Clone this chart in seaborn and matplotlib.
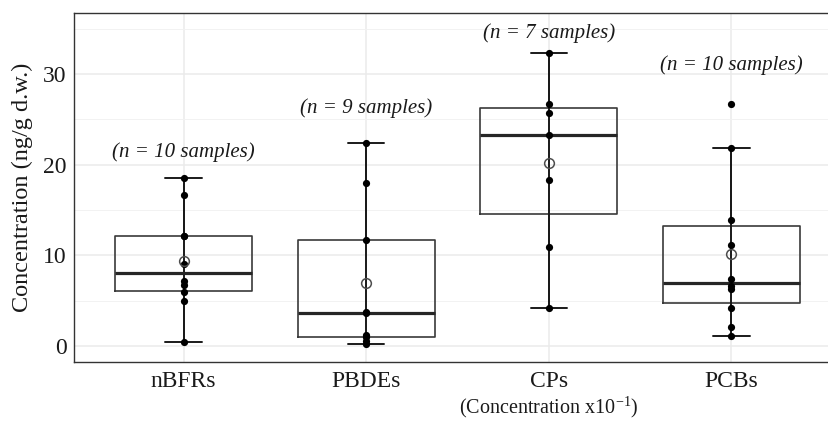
import numpy as np
import pandas as pd
import matplotlib
matplotlib.use("Agg")
import matplotlib.pyplot as plt
import seaborn as sns
from matplotlib import cbook
from matplotlib.transforms import blended_transform_factory
from matplotlib.ticker import FixedLocator, MultipleLocator

# ---------------- data ----------------
categories = ["nBFRs", "PBDEs", "CPs", "PCBs"]
nbfrs = [18.5, 16.7, 12.1, 12.1, 9.0, 7.2, 6.7, 5.9, 5.0, 0.4]
pbdes = [22.4, 18.0, 11.7, 3.7, 3.6, 1.2, 0.95, 0.5, 0.2]
cps = [32.3, 26.7, 25.7, 23.3, 18.3, 10.9, 4.2]
pcbs = [26.7, 21.8, 13.9, 11.1, 7.4, 6.6, 6.3, 4.2, 2.1, 1.1]
sample_labels = ["(n = 10 samples)", "(n = 9 samples)", "(n = 7 samples)", "(n = 10 samples)"]
label_y = [21.4, 26.2, 34.5, 31.0]
y_ticks = [0, 10, 20, 30]
y_label = "Concentration (ng/g d.w.)"
caption = "(Concentration x10$^{-1}$)"
caption_category = "CPs"

series = [nbfrs, pbdes, cps, pcbs]
df = pd.DataFrame({
    "group": np.repeat(categories, [len(s) for s in series]),
    "value": np.concatenate([np.asarray(s, float) for s in series]),
})

# ---------------- style ----------------
sns.set_theme(style="white")
plt.rcParams["font.family"] = ["Liberation Serif", "DejaVu Serif"]
plt.rcParams["mathtext.fontset"] = "custom"
plt.rcParams["mathtext.rm"] = "Liberation Serif"
plt.rcParams["mathtext.it"] = "Liberation Serif:italic"

fig = plt.figure(figsize=(8.29, 4.21), dpi=100)
ax = fig.add_axes([0.0893, 0.1409, 1.0145 - 0.0893, 0.9684 - 0.1409])

line_col = "#1a1a1a"

sns.boxplot(
    data=df, x="group", y="value", order=categories, width=0.75,
    fill=False, color="#3a3a3a", linewidth=1.2, showfliers=False, whis=1.5,
    medianprops=dict(linewidth=2.3, color="#262626"),
    whiskerprops=dict(linewidth=1.4, color=line_col),
    capprops=dict(linewidth=1.4, color=line_col),
    capwidths=0.2, ax=ax, zorder=2,
)

# continuous vertical line from lower to upper whisker (as geom_errorbar)
stats = [cbook.boxplot_stats(np.asarray(s, float), whis=1.5)[0] for s in series]
ax.vlines(np.arange(len(categories)), [st["whislo"] for st in stats],
          [st["whishi"] for st in stats], color=line_col, linewidth=1.4, zorder=2)

sns.stripplot(data=df, x="group", y="value", order=categories, jitter=False,
              color="black", size=5.2, linewidth=0, ax=ax, zorder=4)

sns.pointplot(data=df, x="group", y="value", order=categories, estimator="mean",
              errorbar=None, linestyle="none", marker="o", markersize=7,
              markerfacecolor="none", markeredgecolor="#4d4d4d",
              markeredgewidth=1.1, color="#4d4d4d", ax=ax, zorder=5)

# ---------------- axes ----------------
ax.set_xlim(-0.6, len(categories) - 0.4)
ax.set_ylim(-1.73, 36.69)
ax.yaxis.set_major_locator(FixedLocator(y_ticks))
ax.yaxis.set_minor_locator(MultipleLocator(5))
ax.set_axisbelow(True)
ax.grid(True, which="major", color="#ebebeb", linewidth=1.1)
ax.grid(True, which="minor", axis="y", color="#f2f2f2", linewidth=0.7)
ax.tick_params(which="minor", length=0)
ax.tick_params(which="major", length=3, width=0.9, color="#333333",
               labelsize=17, labelcolor="#1a1a1a", pad=2.5)
ax.tick_params(axis="x", pad=3.5)
ax.set_xlabel("")
ax.set_ylabel("")
for sp in ax.spines.values():
    sp.set_visible(True)
    sp.set_color("#333333")
    sp.set_linewidth(1.0)

for i, (lab, yy) in enumerate(zip(sample_labels, label_y)):
    ax.text(i, yy, lab, ha="center", va="center", fontsize=15,
            style="italic", color="#1a1a1a")

fig.text(22 / 829, 1 - 187.5 / 421, y_label, rotation=90, ha="center",
         va="center", fontsize=17.5, color="#1a1a1a")

trans = blended_transform_factory(ax.transData, fig.transFigure)
ax.text(categories.index(caption_category), 1 - 407.5 / 421, caption, transform=trans,
        ha="center", va="center", fontsize=14.5, color="#1a1a1a")

fig.savefig("out.png", dpi=100)
